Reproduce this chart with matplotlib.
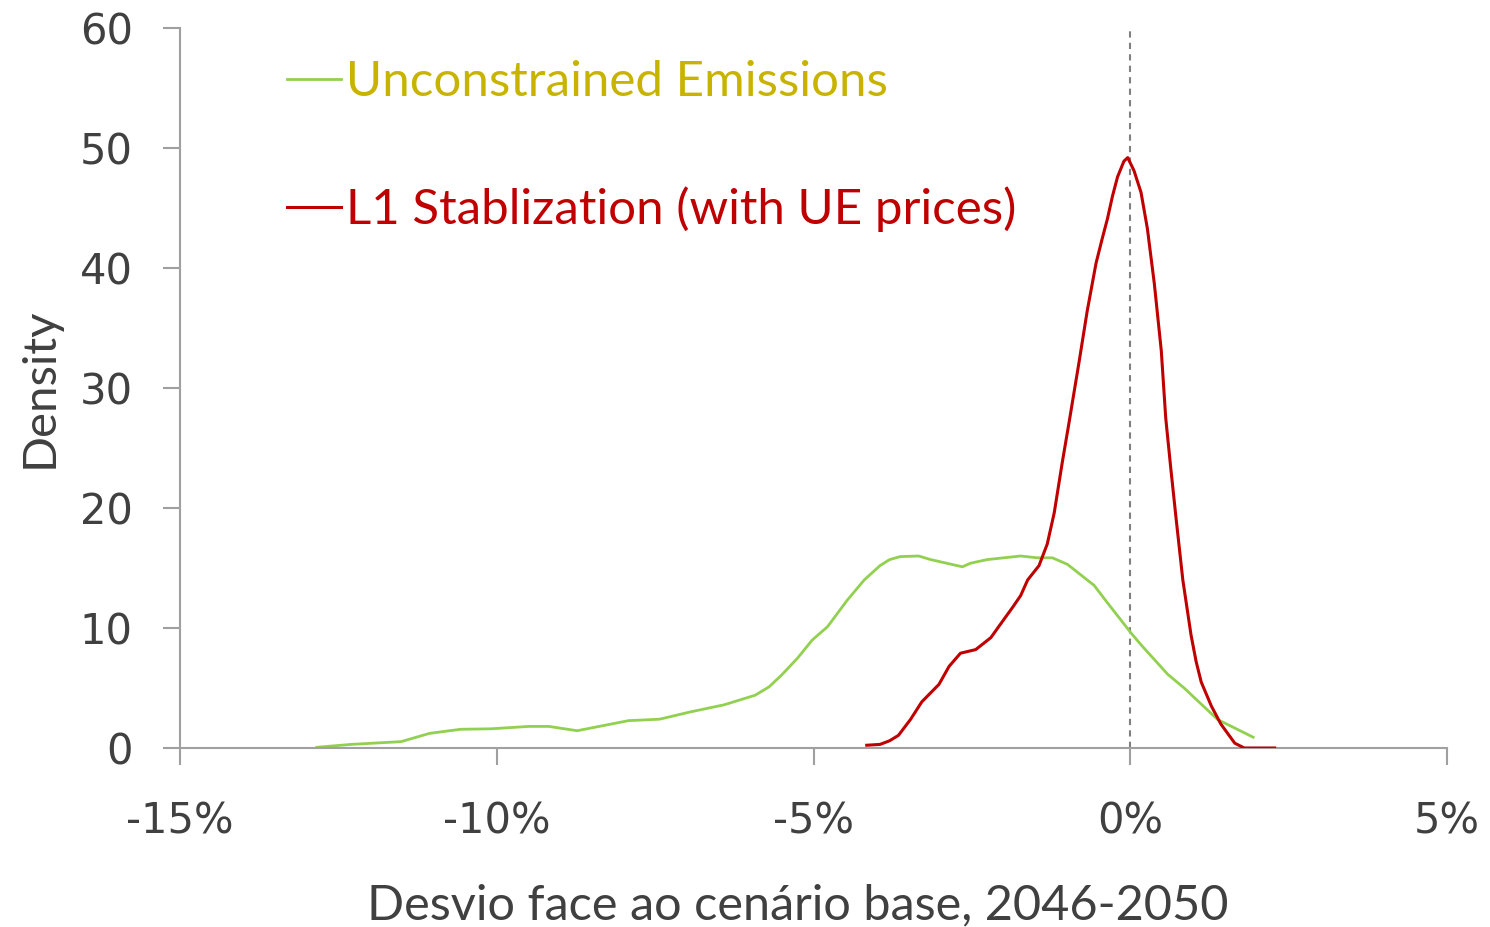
import matplotlib
matplotlib.use("Agg")
import matplotlib.pyplot as plt
from matplotlib.ticker import FuncFormatter

# Unconstrained Emissions density (x in % deviation, y density)
ue_x = [-12.84, -12.3, -11.51, -11.06, -10.57, -10.09, -9.49, -9.18, -8.73,
        -7.92, -7.43, -6.95, -6.41, -5.92, -5.70, -5.50, -5.25, -5.02, -4.78, -4.47,
        -4.2, -3.95, -3.80, -3.63, -3.34, -3.15, -2.65, -2.52, -2.26, -1.73,
        -1.47, -1.23, -0.99, -0.57, -0.36, 0.01, 0.17, 0.59, 0.85, 1.38, 1.94]
ue_y = [0.06, 0.3, 0.53, 1.22, 1.56, 1.6, 1.8, 1.8, 1.44,
        2.28, 2.4, 3.0, 3.6, 4.4, 5.1, 6.1, 7.5, 9.0, 10.1, 12.3,
        14.0, 15.2, 15.7, 15.95, 16.0, 15.7, 15.1, 15.4, 15.7, 16.0,
        15.85, 15.85, 15.3, 13.55, 12.1, 9.6, 8.6, 6.15, 5.0, 2.37, 0.9]

# L1 Stabilization (with UE prices) density
l1_x = [-4.16, -3.95, -3.80, -3.66, -3.47, -3.29, -3.02, -2.86, -2.68, -2.44, -2.20,
        -1.99, -1.86, -1.73, -1.62, -1.44, -1.31, -1.20, -1.07, -0.97, -0.81,
        -0.68, -0.54, -0.44, -0.36, -0.28, -0.20, -0.10, -0.04, 0.06, 0.17, 0.27, 0.38, 0.49,
        0.56, 0.64, 0.72, 0.83, 0.96, 1.04, 1.12, 1.28, 1.43, 1.65, 1.80, 2.28]
l1_y = [0.23, 0.3, 0.6, 1.05, 2.37, 3.85, 5.3, 6.8, 7.9, 8.2, 9.2,
        10.75, 11.7, 12.7, 14.0, 15.2, 17.0, 19.6, 23.9, 27.0, 32.1,
        36.4, 40.4, 42.5, 44.1, 46.0, 47.6, 48.9, 49.2, 48.1, 46.3, 43.3, 38.7, 33.1,
        27.5, 23.3, 19.3, 14.0, 9.4, 7.2, 5.5, 3.5, 2.0, 0.4, 0.0, 0.0]

x_ticks = [-15, -10, -5, 0, 5]
y_ticks = [0, 10, 20, 30, 40, 50, 60]

text_color = "#404040"
axis_color = "#a0a0a0"

fig = plt.figure(figsize=(14.9, 9.27), dpi=100)
ax = fig.add_axes([180 / 1490, 1 - 748 / 927, (1447 - 180) / 1490, (748 - 28) / 927])

ax.axvline(0, color="#808080", linestyle=(0, (3, 2.5)), linewidth=1.5, zorder=1)
ax.plot(ue_x, ue_y, color="#92d050", linewidth=2.0, label="Unconstrained Emissions",
        zorder=2, solid_joinstyle="round")
ax.plot(l1_x, l1_y, color="#c00000", linewidth=2.2, label="L1 Stablization (with UE prices)",
        zorder=3, solid_joinstyle="round")

ax.set_xlim(-15, 5)
ax.set_ylim(0, 60)
ax.set_xticks(x_ticks)
ax.set_yticks(y_ticks)
ax.xaxis.set_major_formatter(FuncFormatter(lambda v, _: f"{int(v)}%"))

for side in ["top", "right"]:
    ax.spines[side].set_visible(False)
for side in ["left", "bottom"]:
    ax.spines[side].set_color(axis_color)
    ax.spines[side].set_linewidth(1.5)

ax.tick_params(axis="both", colors=axis_color, length=12, width=1.5,
               labelsize=30, labelcolor=text_color)
ax.tick_params(axis="y", pad=22)
ax.tick_params(axis="x", pad=26)

ax.set_ylabel("Density", fontsize=34, family="Lato", color=text_color, labelpad=14)
fig.text(798 / 1490, 1 - 905 / 927, "Desvio face ao cenário base, 2046-2050",
         fontsize=35, family="Lato", color=text_color, ha="center", va="center")

leg = ax.legend(loc="upper left", bbox_to_anchor=(287 / 1490, 1 - 60 / 927),
                bbox_transform=fig.transFigure, frameon=False,
                borderaxespad=0, borderpad=0,
                handlelength=1.1, handletextpad=0.1, labelspacing=1.67,
                prop={"family": "Lato", "size": 35.5})
for txt, col in zip(leg.get_texts(), ["#c8b400", "#c00000"]):
    txt.set_color(col)

fig.savefig("out.png", dpi=100)
